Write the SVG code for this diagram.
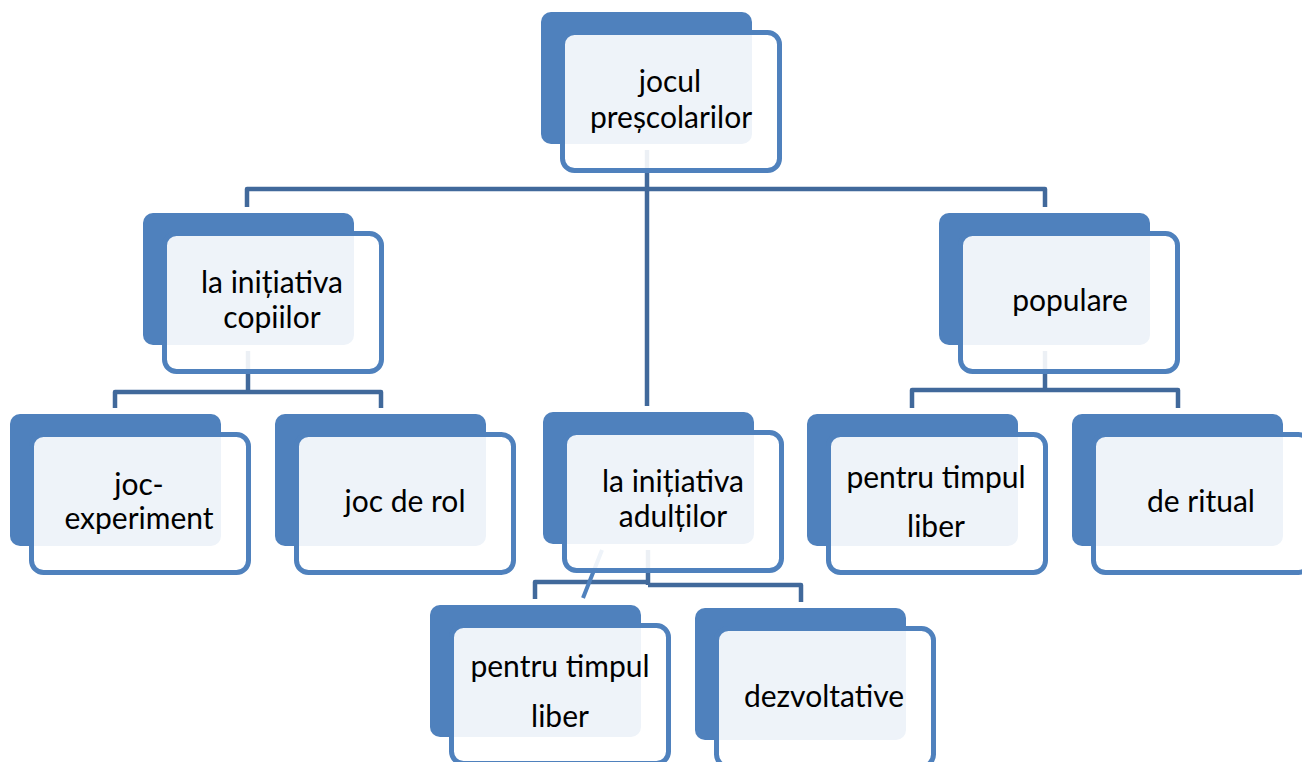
<svg xmlns="http://www.w3.org/2000/svg" width="1302" height="762" viewBox="0 0 1302 762">
<defs>
<style>
.bk{fill:#4F81BD}
.fr{fill:#FFFFFF;fill-opacity:0.9;stroke:#4F81BD;stroke-width:5}
.cn{fill:none;stroke:#41699B;stroke-width:4.5;stroke-linejoin:round}
.dg{fill:none;stroke:#4F81BD;stroke-width:4}
text{font-family:Lato,"Open Sans","Liberation Sans",sans-serif;font-size:30px;fill:#000;text-anchor:middle}
</style>
<g id="card">
<rect class="bk" x="0" y="0" width="211" height="132" rx="10"/>
<rect class="fr" x="21.5" y="20.5" width="217" height="138" rx="12"/>
</g>
</defs>
<rect width="1302" height="762" fill="#FFFFFF"/>
<g id="connectors">
<path class="cn" d="M647,150 V406"/>
<path class="cn" d="M247,207 V189 H1045 V207"/>
<path class="cn" d="M248,351 V392"/>
<path class="cn" d="M115,408 V392 H381 V408"/>
<path class="cn" d="M1045,351 V390"/>
<path class="cn" d="M912,408 V390 H1178 V408"/>
<path class="cn" d="M648,550 V585"/>
<path class="cn" d="M535,599 V582 H648"/>
<path class="cn" d="M648,585 H801 V602"/>
<path class="dg" d="M602,550 L583,598"/>
</g>
<g id="n-top"><use href="#card" x="541" y="12"/><text x="670" y="92">jocul</text><text x="671" y="128">preșcolarilor</text></g>
<g id="n-copiilor"><use href="#card" x="143" y="213"/><text x="272" y="293">la inițiativa</text><text x="272" y="328">copiilor</text></g>
<g id="n-populare"><use href="#card" x="939" y="213"/><text x="1070" y="311">populare</text></g>
<g id="n-jocexp"><use href="#card" x="10" y="414"/><text x="139" y="495">joc-</text><text x="139" y="529">experiment</text></g>
<g id="n-jocrol"><use href="#card" x="275" y="414"/><text x="405" y="512">joc de rol</text></g>
<g id="n-adultilor"><use href="#card" x="543" y="412"/><text x="673" y="492">la inițiativa</text><text x="673" y="527">adulților</text></g>
<g id="n-liber-r"><use href="#card" x="807" y="414"/><text x="936" y="488">pentru timpul</text><text x="936" y="537">liber</text></g>
<g id="n-ritual"><use href="#card" x="1072" y="414"/><text x="1201" y="512">de ritual</text></g>
<g id="n-liber-b"><use href="#card" x="430" y="605"/><text x="560" y="677">pentru timpul</text><text x="560" y="727">liber</text></g>
<g id="n-dezv"><use href="#card" x="695" y="608"/><text x="824" y="707">dezvoltative</text></g>
</svg>
